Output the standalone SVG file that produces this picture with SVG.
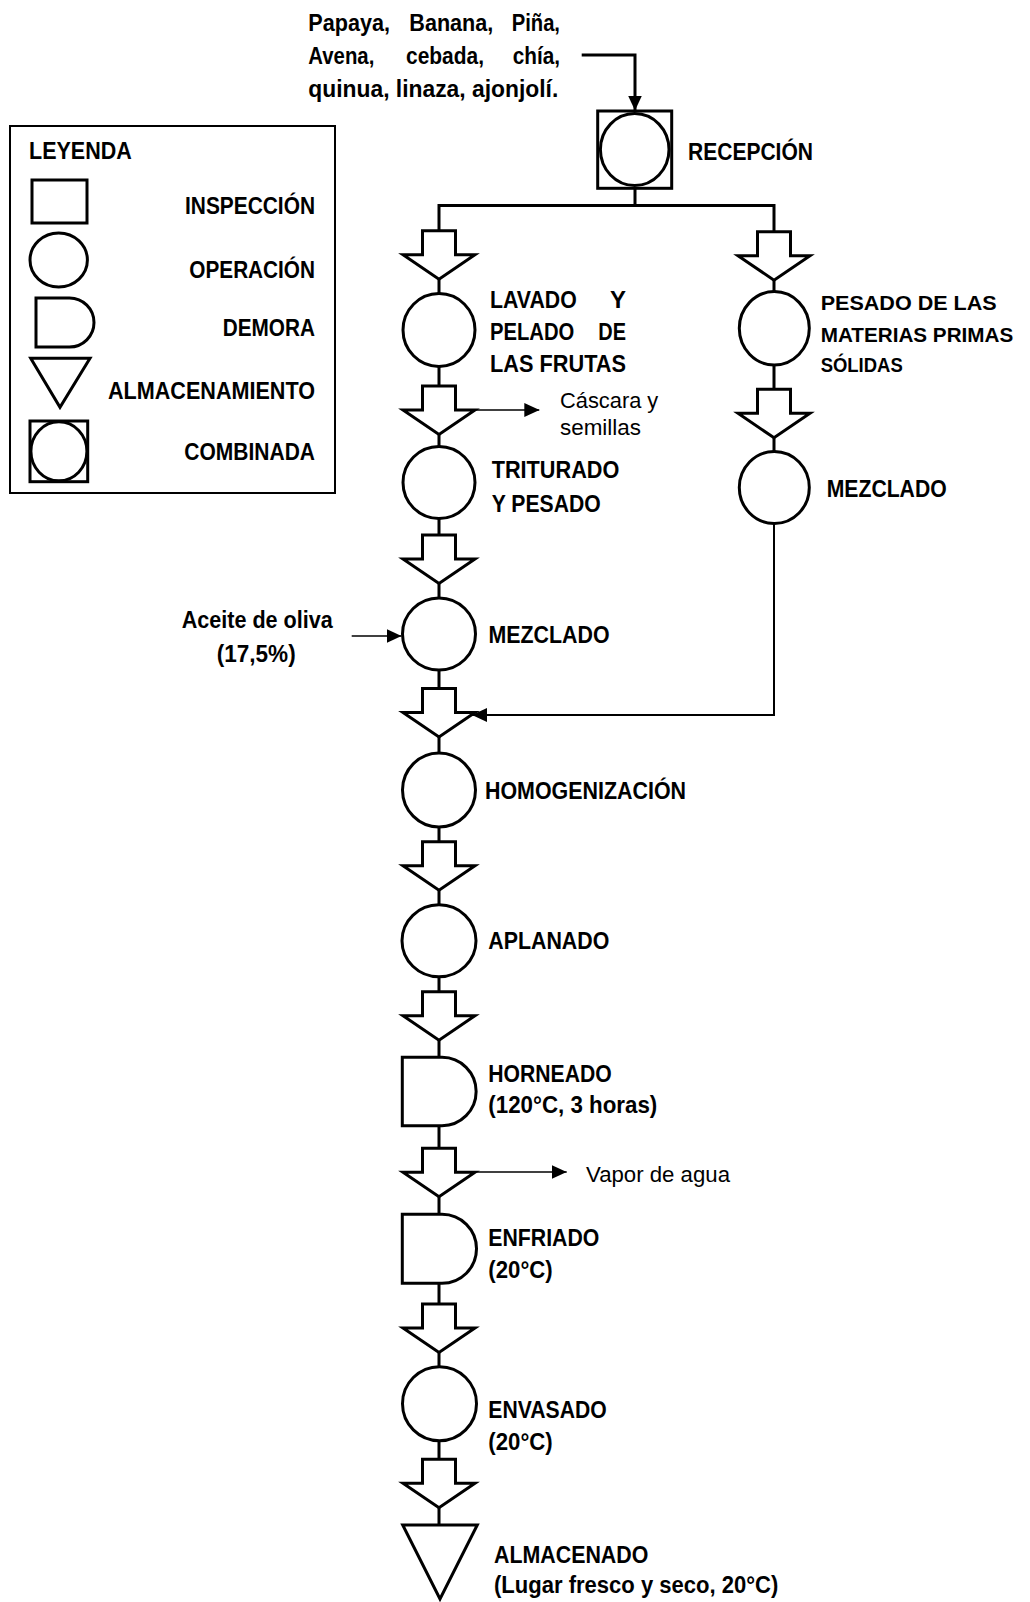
<svg xmlns="http://www.w3.org/2000/svg" xmlns:xlink="http://www.w3.org/1999/xlink" width="1030" height="1602" viewBox="0 0 1030 1602">
  <style>
    .lb { font-family: "Liberation Sans", Arial, sans-serif; font-weight: bold; font-size: 23px; fill: #000; }
    .lr { font-family: "Liberation Sans", Arial, sans-serif; font-weight: normal; font-size: 22px; fill: #000; }
    .sm { font-size: 21px; }
    .shape { fill: #fff; stroke: #000; stroke-width: 3; }
    .frame { fill: #fff; stroke: #000; stroke-width: 2; }
    .main { fill: none; stroke: #000; stroke-width: 3; }
    .thin { fill: none; stroke: #000; stroke-width: 1.5; }
    .mid { fill: none; stroke: #000; stroke-width: 2; }
  </style>
  <defs>
    <marker id="ah" markerUnits="userSpaceOnUse" markerWidth="15" markerHeight="14" refX="15" refY="7" orient="auto">
      <path d="M0,0 L15,7 L0,14 Z" fill="#000"/>
    </marker>
    <path id="ba" d="M-16.5,0 H16.5 V24 H36 L0,48.5 L-36,24 H-16.5 Z" fill="#fff" stroke="#000" stroke-width="3" stroke-linejoin="miter"/>
  </defs>
  <rect width="1030" height="1602" fill="#fff"/>

  <!-- Legend -->
  <g id="legend">
    <rect class="frame" x="10" y="126" width="325" height="367"/>
    <text class="lb" x="29" y="159.3" textLength="102.7" lengthAdjust="spacingAndGlyphs">LEYENDA</text>
    <rect class="shape" x="32" y="180" width="55" height="43"/>
    <text class="lb" x="185" y="214.3" textLength="130" lengthAdjust="spacingAndGlyphs">INSPECCIÓN</text>
    <ellipse class="shape" cx="58.7" cy="260" rx="28.7" ry="27"/>
    <text class="lb" x="189.3" y="278.3" textLength="125.7" lengthAdjust="spacingAndGlyphs">OPERACIÓN</text>
    <path class="shape" d="M36,298 H69.5 A24.5,24.5 0 0 1 69.5,347 H36 Z"/>
    <text class="lb" x="222.7" y="336" textLength="92.3" lengthAdjust="spacingAndGlyphs">DEMORA</text>
    <path class="shape" d="M30.7,358.3 H90 L60,407.3 Z"/>
    <text class="lb" x="108" y="399.3" textLength="207" lengthAdjust="spacingAndGlyphs">ALMACENAMIENTO</text>
    <rect class="shape" x="30" y="421" width="57.7" height="60.7"/>
    <ellipse class="shape" cx="58.9" cy="451.3" rx="28" ry="29.5"/>
    <text class="lb" x="184.3" y="460" textLength="130.7" lengthAdjust="spacingAndGlyphs">COMBINADA</text>
  </g>

  <!-- Input text -->
  <g id="input-materias">
    <text class="lb" y="31">
      <tspan x="308.3" textLength="81.7" lengthAdjust="spacingAndGlyphs">Papaya,</tspan>
      <tspan x="409.3" textLength="84" lengthAdjust="spacingAndGlyphs">Banana,</tspan>
      <tspan x="511.7" textLength="48.3" lengthAdjust="spacingAndGlyphs">Piña,</tspan>
    </text>
    <text class="lb" y="64">
      <tspan x="308.3" textLength="66" lengthAdjust="spacingAndGlyphs">Avena,</tspan>
      <tspan x="406" textLength="78" lengthAdjust="spacingAndGlyphs">cebada,</tspan>
      <tspan x="512.7" textLength="47.3" lengthAdjust="spacingAndGlyphs">chía,</tspan>
    </text>
    <text class="lb" x="308.3" y="97" textLength="250" lengthAdjust="spacingAndGlyphs">quinua, linaza, ajonjolí.</text>
  </g>

  <!-- Connectors -->
  <g id="connectors">
    <path class="main" d="M581.7,55 H635 V110.5" marker-end="url(#ah)" stroke-width="2.5"/>
    <path class="main" d="M635,188 V205.5 M439,205.5 H774 M439,204 V1525 M774,204 V524"/>
    <path class="mid" d="M774,524 V715 H472" marker-end="url(#ah)"/>
    <path class="thin" d="M475,410 H539.3" marker-end="url(#ah)"/>
    <path class="thin" d="M351.7,636 H401.5" marker-end="url(#ah)"/>
    <path class="thin" d="M475,1172 H566.7" marker-end="url(#ah)"/>
    <use xlink:href="#ba" x="439" y="230.7"/>
    <use xlink:href="#ba" x="439" y="386"/>
    <use xlink:href="#ba" x="439" y="535"/>
    <use xlink:href="#ba" x="439" y="688.5"/>
    <use xlink:href="#ba" x="439" y="841.7"/>
    <use xlink:href="#ba" x="439" y="991.7"/>
    <use xlink:href="#ba" x="439" y="1148.3"/>
    <use xlink:href="#ba" x="439" y="1304"/>
    <use xlink:href="#ba" x="439" y="1459.3"/>
    <use xlink:href="#ba" x="774" y="231.7"/>
    <use xlink:href="#ba" x="774" y="389.3"/>
  </g>

  <!-- Nodes -->
  <g id="recepcion">
    <rect class="shape" x="597.7" y="111" width="74" height="77.3"/>
    <ellipse class="shape" cx="634.7" cy="149.6" rx="34.3" ry="36"/>
    <text class="lb" x="688" y="160" textLength="125" lengthAdjust="spacingAndGlyphs">RECEPCIÓN</text>
  </g>

  <g id="lavado">
    <ellipse class="shape" cx="439" cy="330" rx="36" ry="36.5"/>
    <text class="lb" y="308.3">
      <tspan x="490" textLength="86.7" lengthAdjust="spacingAndGlyphs">LAVADO</tspan>
      <tspan x="610" textLength="16" lengthAdjust="spacingAndGlyphs">Y</tspan>
    </text>
    <text class="lb" y="340">
      <tspan x="490" textLength="84.3" lengthAdjust="spacingAndGlyphs">PELADO</tspan>
      <tspan x="598.3" textLength="27.7" lengthAdjust="spacingAndGlyphs">DE</tspan>
    </text>
    <text class="lb" x="490" y="371.7" textLength="136" lengthAdjust="spacingAndGlyphs">LAS FRUTAS</text>
  </g>

  <g id="cascara">
    <text class="lr" x="560" y="408.3" textLength="98.3" lengthAdjust="spacingAndGlyphs">Cáscara y</text>
    <text class="lr" x="560" y="435" textLength="81" lengthAdjust="spacingAndGlyphs">semillas</text>
  </g>

  <g id="triturado">
    <ellipse class="shape" cx="439" cy="482.5" rx="36" ry="36"/>
    <text class="lb" x="491.7" y="478.3" textLength="127.6" lengthAdjust="spacingAndGlyphs">TRITURADO</text>
    <text class="lb" x="491.7" y="511.7" textLength="109" lengthAdjust="spacingAndGlyphs">Y PESADO</text>
  </g>

  <g id="aceite">
    <text class="lb" x="181.7" y="628.3" textLength="151" lengthAdjust="spacingAndGlyphs">Aceite de oliva</text>
    <text class="lb" x="216.7" y="661.7" textLength="79" lengthAdjust="spacingAndGlyphs">(17,5%)</text>
  </g>

  <g id="mezclado-1">
    <ellipse class="shape" cx="439" cy="634" rx="36.5" ry="36"/>
    <text class="lb" x="488.5" y="642.5" textLength="121" lengthAdjust="spacingAndGlyphs">MEZCLADO</text>
  </g>

  <g id="homogenizacion">
    <ellipse class="shape" cx="439" cy="790" rx="36.5" ry="37"/>
    <text class="lb" x="485" y="799" textLength="201" lengthAdjust="spacingAndGlyphs">HOMOGENIZACIÓN</text>
  </g>

  <g id="aplanado">
    <ellipse class="shape" cx="439" cy="940.8" rx="37" ry="36"/>
    <text class="lb" x="488.3" y="949.3" textLength="121" lengthAdjust="spacingAndGlyphs">APLANADO</text>
  </g>

  <g id="horneado">
    <path class="shape" d="M402.3,1057.3 H442 A34.2,34.2 0 0 1 442,1125.7 H402.3 Z"/>
    <text class="lb" x="488.3" y="1081.7" textLength="123.4" lengthAdjust="spacingAndGlyphs">HORNEADO</text>
    <text class="lb" x="488.3" y="1113.3" textLength="169" lengthAdjust="spacingAndGlyphs">(120°C, 3 horas)</text>
  </g>

  <g id="vapor">
    <text class="lr" x="586" y="1181.7" textLength="144" lengthAdjust="spacingAndGlyphs">Vapor de agua</text>
  </g>

  <g id="enfriado">
    <path class="shape" d="M402.3,1214.3 H442 A34.5,34.5 0 0 1 442,1283.3 H402.3 Z"/>
    <text class="lb" x="488.3" y="1246" textLength="111" lengthAdjust="spacingAndGlyphs">ENFRIADO</text>
    <text class="lb" x="488.3" y="1278.3" textLength="64.4" lengthAdjust="spacingAndGlyphs">(20°C)</text>
  </g>

  <g id="envasado">
    <ellipse class="shape" cx="439.5" cy="1403.7" rx="37" ry="37"/>
    <text class="lb" x="488.3" y="1418.3" textLength="118.4" lengthAdjust="spacingAndGlyphs">ENVASADO</text>
    <text class="lb" x="488.3" y="1450" textLength="64.4" lengthAdjust="spacingAndGlyphs">(20°C)</text>
  </g>

  <g id="almacenado">
    <path class="shape" d="M402.7,1525 H477.3 L440,1599 Z"/>
    <text class="lb" x="494" y="1563.3" textLength="154.3" lengthAdjust="spacingAndGlyphs">ALMACENADO</text>
    <text class="lb" x="494" y="1593.3" textLength="284.3" lengthAdjust="spacingAndGlyphs">(Lugar fresco y seco, 20°C)</text>
  </g>

  <g id="pesado">
    <ellipse class="shape" cx="774.3" cy="328.3" rx="35" ry="36.7"/>
    <text class="lb sm" x="820.7" y="310" textLength="176" lengthAdjust="spacingAndGlyphs">PESADO DE LAS</text>
    <text class="lb sm" x="820.7" y="341.7" textLength="192.6" lengthAdjust="spacingAndGlyphs">MATERIAS PRIMAS</text>
    <text class="lb sm" x="820.7" y="371.7" textLength="82" lengthAdjust="spacingAndGlyphs">SÓLIDAS</text>
  </g>

  <g id="mezclado-2">
    <ellipse class="shape" cx="774.3" cy="487.5" rx="35" ry="36"/>
    <text class="lb" x="826.7" y="496.7" textLength="120" lengthAdjust="spacingAndGlyphs">MEZCLADO</text>
  </g>
</svg>
